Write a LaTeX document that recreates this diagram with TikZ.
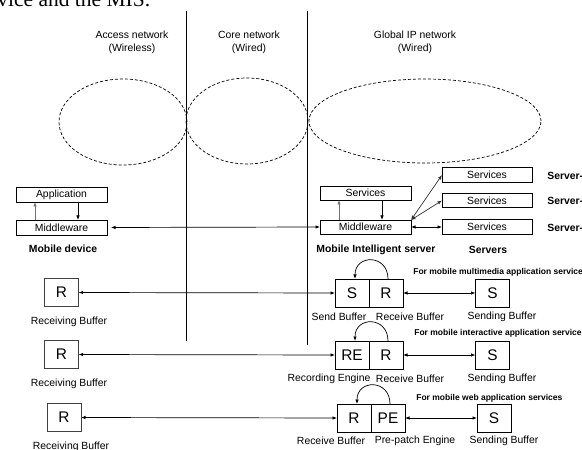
\documentclass[tikz,border=0pt]{standalone}
\usepackage{fontspec}
\setmainfont{Liberation Sans}
\newfontfamily\capfont{Liberation Serif}
\usetikzlibrary{arrows.meta, positioning, shapes.geometric}

\tikzset{
  lbl/.style={font=\fontsize{10.4bp}{13bp}\selectfont, inner sep=0pt},
  bld/.style={font=\fontsize{10.4bp}{13bp}\selectfont\bfseries, inner sep=0pt},
  note/.style={font=\fontsize{8.5bp}{10bp}\selectfont\bfseries, inner sep=0pt, anchor=west},
  layer/.style={draw, line width=0.8bp, minimum width=91bp, minimum height=15bp, inner sep=0pt, outer sep=0pt, font=\fontsize{10.4bp}{12bp}\selectfont},
  buf/.style={draw, line width=0.8bp, minimum width=34bp, minimum height=28bp, inner sep=0pt, outer sep=0pt, font=\fontsize{15.4bp}{18bp}\selectfont},
  zone/.style={draw, dash pattern=on 3bp off 2bp, line width=0.7bp},
  link/.style={<->, line width=0.7bp},
}

\begin{document}
\begin{tikzpicture}[x=1bp, y=-1bp, >={Latex[length=4.5bp,width=3.5bp]}, line width=0.7bp]
    \useasboundingbox (0,0) rectangle (582,450);
    \clip (0,0) rectangle (582,450);

    \node[anchor=base west, inner sep=0pt, font=\capfont\fontsize{21.5bp}{24bp}\selectfont] (cap) at (-23.3,7) {device and the MIS.};

    \draw[line width=0.8bp] (186,11) -- (186,341);
    \draw[line width=0.8bp] (307,11) -- (307,345);

    \node[lbl, align=center] (acc) at (132,42) {Access network\\(Wireless)};
    \node[lbl, align=center] (core) at (249,42) {Core network\\(Wired)};
    \node[lbl, align=center] (glob) at (415,42) {Global IP network\\(Wired)};

    \draw[zone] (123,122) ellipse [x radius=64bp, y radius=43bp];
    \draw[zone] (247,121) ellipse [x radius=61bp, y radius=43bp];
    \draw[zone] (425,121) ellipse [x radius=116bp, y radius=42bp];

    \node[layer] (app) at (61.5,194.5) {Application};
    \node[layer] (dmw) at (61.5,227.5) {Middleware};
    \node[bld] (dev) at (63,249) {Mobile device};
    \draw[->, black!55] ([xshift=-26.5bp]dmw.north) -- ([xshift=-26.5bp]app.south);
    \draw[->] ([xshift=16.5bp]app.south) -- ([xshift=16.5bp]dmw.north);

    \node[layer, minimum height=14bp] (msrv) at (365.5,193) {Services};
    \node[layer, minimum height=14bp] (mmw) at (365.5,227) {Middleware};
    \node[bld] (mis) at (376,250) {Mobile Intelligent server};
    \draw[->, black!55] ([xshift=-26.5bp]mmw.north) -- ([xshift=-26.5bp]msrv.south);
    \draw[->] ([xshift=16.5bp]msrv.south) -- ([xshift=16.5bp]mmw.north);

    \node[layer, minimum width=90bp, minimum height=14.5bp] (srv3) at (487,175) {Services};
    \node[layer, minimum width=90bp, minimum height=14.5bp] (srv2) at (487,200.5) {Services};
    \node[layer, minimum width=90bp, minimum height=14.5bp] (srv1) at (487,227) {Services};
    \node[bld, anchor=west] (name3) at (547,175.5) {Server-3};
    \node[bld, anchor=west] (name2) at (547,201) {Server-2};
    \node[bld, anchor=west] (name1) at (547,227.5) {Server-1};
    \node[bld] (servers) at (488,250) {Servers};

    \draw[link, shorten <=4bp] (dmw.east) -- (mmw.west);
    \draw[link, black!80] (mmw.north east) -- (srv3.west);
    \draw[link, black!80] (mmw.north east) -- (srv2.west);
    \draw[link] (mmw.east) -- (srv1.west);

    \node[buf, draw=black!75] (lr1) at (61.5,292.5) {R};
    \node[buf] (s1) at (352,293) {S};
    \node[buf, right=0pt of s1] (r1) {R};
    \node[buf] (ss1) at (492.5,293) {S};
    \draw[->] ([xshift=2bp]r1.north) .. controls +(0,-25) and +(0,-25) .. ([xshift=3bp]s1.north);
    \draw[link] (lr1.east) -- (s1.west);
    \draw[link] (r1.east) -- (ss1.west);
    \node[note] (n1) at (413,272) {For mobile multimedia application services};
    \node[lbl] (l1a) at (339,317) {Send Buffer};
    \node[lbl] (l1b) at (410,317) {Receive Buffer};
    \node[lbl] (l1c) at (502,317) {Sending Buffer};
    \node[lbl] (l1d) at (69,322) {Receiving Buffer};

    \node[buf, draw=black!75] (lr2) at (61.5,354.5) {R};
    \node[buf] (re2) at (352,355) {RE};
    \node[buf, right=0pt of re2] (r2) {R};
    \node[buf] (ss2) at (492.5,355) {S};
    \draw[->] ([xshift=2bp]r2.north) .. controls +(0,-25) and +(0,-25) .. ([xshift=3bp]re2.north);
    \draw[link] (lr2.east) -- (re2.west);
    \draw[link] (r2.east) -- (ss2.west);
    \node[note] (n2) at (414,333) {For mobile interactive application services};
    \node[lbl] (l2a) at (329,379) {Recording Engine};
    \node[lbl] (l2b) at (410,379) {Receive Buffer};
    \node[lbl] (l2c) at (502,379) {Sending Buffer};
    \node[lbl] (l2d) at (69,384) {Receiving Buffer};

    \node[buf, draw=black!75] (lr3) at (64,417.5) {R};
    \node[buf] (r3) at (354,418) {R};
    \node[buf, right=0pt of r3] (pe3) {PE};
    \node[buf] (ss3) at (494,418) {S};
    \draw[->] ([xshift=2bp]pe3.north) .. controls +(0,-25) and +(0,-25) .. ([xshift=3bp]r3.north);
    \draw[link] (lr3.east) -- (r3.west);
    \draw[link] (pe3.east) -- (ss3.west);
    \node[note] (n3) at (416,398) {For mobile web application services};
    \node[lbl] (l3a) at (331,441) {Receive Buffer};
    \node[lbl] (l3b) at (415,441) {Pre-patch Engine};
    \node[lbl] (l3c) at (504,441) {Sending Buffer};
    \node[lbl] (l3d) at (71,447) {Receiving Buffer};
\end{tikzpicture}
\end{document}
